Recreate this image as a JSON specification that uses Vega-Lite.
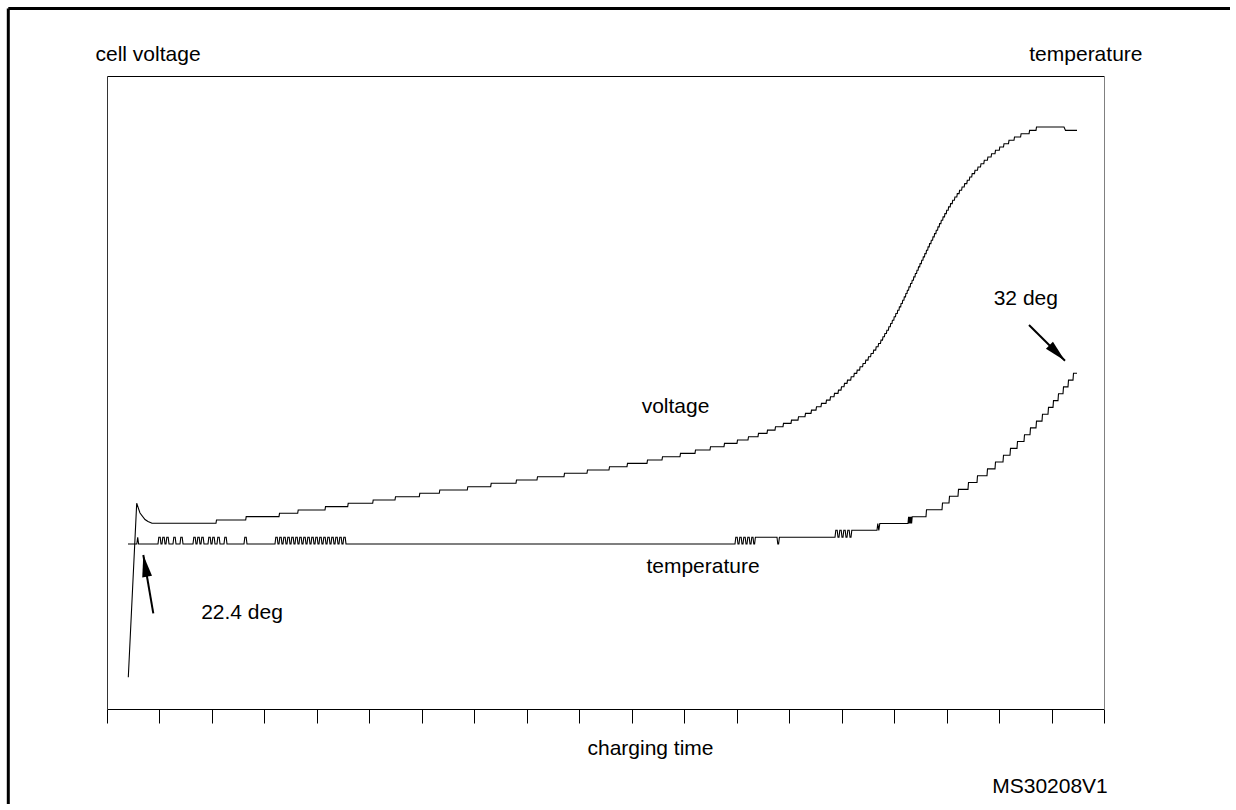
{
  "$schema": "https://vega.github.io/schema/vega-lite/v6.json",
  "width": 997,
  "height": 633,
  "autosize": {"type": "none"},
  "padding": {"left": 107, "top": 76, "right": 126, "bottom": 95},
  "background": "white",
  "config": {
    "view": {"stroke": null},
    "font": "Liberation Sans",
    "axis": {"grid": false, "labels": false, "ticks": false, "titleFont": "Liberation Sans", "titleFontSize": 21, "titleFontWeight": "normal", "titleColor": "black", "domainColor": "black", "domainWidth": 1}
  },
  "datasets": {
    "frame": [
      {"t": -98.7, "v": 700.5, "t2": 1123, "v2": 700.5},
      {"t": -98.7, "v": 700.5, "t2": -98.7, "v2": -95}
    ],
    "voltage": [
      {"t": 21.3, "v": 31.7}, {"t": 29.7, "v": 205.7}, {"t": 33, "v": 196}, {"t": 38, "v": 189.5}, {"t": 41, "v": 187.5}, {"t": 45, "v": 185.7},
      {"t": 109, "v": 185.7}, {"t": 109.5, "v": 189.0},
      {"t": 138.7, "v": 189.0}, {"t": 139.2, "v": 192.4},
      {"t": 172, "v": 192.4}, {"t": 172.5, "v": 195.7},
      {"t": 190.7, "v": 195.7}, {"t": 191.2, "v": 199.0},
      {"t": 218, "v": 199.0}, {"t": 218.5, "v": 202.4},
      {"t": 240.7, "v": 202.4}, {"t": 241.2, "v": 205.7},
      {"t": 265.7, "v": 205.7}, {"t": 266.2, "v": 209.0},
      {"t": 288, "v": 209.0}, {"t": 288.5, "v": 212.3},
      {"t": 312.3, "v": 212.3}, {"t": 312.8, "v": 215.7},
      {"t": 332.3, "v": 215.7}, {"t": 332.8, "v": 219.0},
      {"t": 360.3, "v": 219.0}, {"t": 360.8, "v": 222.3},
      {"t": 383.7, "v": 222.3}, {"t": 384.2, "v": 225.7},
      {"t": 409, "v": 225.7}, {"t": 409.5, "v": 229.0},
      {"t": 430, "v": 229.0}, {"t": 430.5, "v": 232.3},
      {"t": 457, "v": 232.3}, {"t": 457.5, "v": 235.7},
      {"t": 480, "v": 235.7}, {"t": 480.5, "v": 239.0},
      {"t": 502, "v": 239.0}, {"t": 502.5, "v": 242.3},
      {"t": 520, "v": 242.3}, {"t": 520.5, "v": 245.6},
      {"t": 540, "v": 245.6}, {"t": 540.5, "v": 249.0},
      {"t": 555, "v": 249.0}, {"t": 555.5, "v": 252.3},
      {"t": 573, "v": 252.3}, {"t": 573.5, "v": 255.6},
      {"t": 588, "v": 255.6}, {"t": 588.5, "v": 259.0},
      {"t": 603, "v": 259.0}, {"t": 603.5, "v": 262.3},
      {"t": 617, "v": 262.3}, {"t": 617.5, "v": 265.6},
      {"t": 630, "v": 265.6}, {"t": 630.5, "v": 269.0},
      {"t": 641, "v": 269.0}, {"t": 641.5, "v": 272.3},
      {"t": 651, "v": 272.3}, {"t": 651.5, "v": 275.6},
      {"t": 660, "v": 275.6}, {"t": 660.5, "v": 278.9},
      {"t": 668, "v": 278.9}, {"t": 668.5, "v": 282.3},
      {"t": 676, "v": 282.3}, {"t": 676.5, "v": 285.6},
      {"t": 684, "v": 285.6}, {"t": 684.5, "v": 288.9},
      {"t": 691, "v": 288.9}, {"t": 691.5, "v": 292.3},
      {"t": 698, "v": 292.3}, {"t": 698.5, "v": 295.6},
      {"t": 704, "v": 295.6}, {"t": 704.5, "v": 298.9},
      {"t": 709, "v": 298.9}, {"t": 709.5, "v": 302.3},
      {"t": 714, "v": 302.3}, {"t": 714.5, "v": 305.6},
      {"t": 719, "v": 305.6}, {"t": 719.5, "v": 308.9},
      {"t": 723, "v": 308.9}, {"t": 723.5, "v": 312.2},
      {"t": 727, "v": 312.2}, {"t": 727.5, "v": 315.6},
      {"t": 731, "v": 315.6}, {"t": 731.5, "v": 318.9},
      {"t": 734, "v": 318.9}, {"t": 734.5, "v": 322.2},
      {"t": 737, "v": 322.2}, {"t": 737.5, "v": 325.6},
      {"t": 740, "v": 325.6}, {"t": 740.5, "v": 328.9},
      {"t": 743.7, "v": 328.9}, {"t": 744.2, "v": 332.2},
      {"t": 746.8, "v": 332.2}, {"t": 747.3, "v": 335.6},
      {"t": 749.7, "v": 335.6}, {"t": 750.2, "v": 338.9},
      {"t": 752.6, "v": 338.9}, {"t": 753.1, "v": 342.2},
      {"t": 755.6, "v": 342.2}, {"t": 756.1, "v": 345.5},
      {"t": 758.3, "v": 345.5}, {"t": 758.8, "v": 348.9},
      {"t": 761, "v": 348.9}, {"t": 761.5, "v": 352.2},
      {"t": 763.6, "v": 352.2}, {"t": 764.1, "v": 355.5},
      {"t": 766.2, "v": 355.5}, {"t": 766.7, "v": 358.9},
      {"t": 768.7, "v": 358.9}, {"t": 769.2, "v": 362.2},
      {"t": 771.1, "v": 362.2}, {"t": 771.6, "v": 365.5},
      {"t": 773.5, "v": 365.5}, {"t": 774, "v": 368.9},
      {"t": 775.5, "v": 368.9}, {"t": 776, "v": 372.2},
      {"t": 777.4, "v": 372.2}, {"t": 777.9, "v": 375.5},
      {"t": 779.4, "v": 375.5}, {"t": 779.9, "v": 378.8},
      {"t": 781.4, "v": 378.8}, {"t": 781.9, "v": 382.2},
      {"t": 783.3, "v": 382.2}, {"t": 783.7, "v": 385.5},
      {"t": 785, "v": 385.5}, {"t": 785.4, "v": 388.8},
      {"t": 786.8, "v": 388.8}, {"t": 787.2, "v": 392.2},
      {"t": 788.5, "v": 392.2}, {"t": 788.9, "v": 395.5},
      {"t": 790.3, "v": 395.5}, {"t": 790.7, "v": 398.8},
      {"t": 792, "v": 398.8}, {"t": 792.4, "v": 402.1},
      {"t": 793.7, "v": 402.1}, {"t": 794.1, "v": 405.5},
      {"t": 795.3, "v": 405.5}, {"t": 795.7, "v": 408.8},
      {"t": 796.9, "v": 408.8}, {"t": 797.3, "v": 412.1},
      {"t": 798.5, "v": 412.1}, {"t": 798.9, "v": 415.5},
      {"t": 800, "v": 415.5}, {"t": 800.4, "v": 418.8},
      {"t": 801.6, "v": 418.8}, {"t": 802, "v": 422.1},
      {"t": 803.2, "v": 422.1}, {"t": 803.6, "v": 425.5},
      {"t": 804.8, "v": 425.5}, {"t": 805.2, "v": 428.8},
      {"t": 806.4, "v": 428.8}, {"t": 806.8, "v": 432.1},
      {"t": 808, "v": 432.1}, {"t": 808.4, "v": 435.5},
      {"t": 809.6, "v": 435.5}, {"t": 810, "v": 438.8},
      {"t": 811.1, "v": 438.8}, {"t": 811.5, "v": 442.1},
      {"t": 812.7, "v": 442.1}, {"t": 813.1, "v": 445.4},
      {"t": 814.3, "v": 445.4}, {"t": 814.7, "v": 448.8},
      {"t": 815.9, "v": 448.8}, {"t": 816.3, "v": 452.1},
      {"t": 817.5, "v": 452.1}, {"t": 817.9, "v": 455.4},
      {"t": 819.1, "v": 455.4}, {"t": 819.5, "v": 458.8},
      {"t": 820.7, "v": 458.8}, {"t": 821.1, "v": 462.1},
      {"t": 822.2, "v": 462.1}, {"t": 822.6, "v": 465.4},
      {"t": 823.9, "v": 465.4}, {"t": 824.3, "v": 468.8},
      {"t": 825.6, "v": 468.8}, {"t": 826, "v": 472.1},
      {"t": 827.2, "v": 472.1}, {"t": 827.6, "v": 475.4},
      {"t": 828.9, "v": 475.4}, {"t": 829.3, "v": 478.7},
      {"t": 830.6, "v": 478.7}, {"t": 831, "v": 482.1},
      {"t": 832.2, "v": 482.1}, {"t": 832.6, "v": 485.4},
      {"t": 833.9, "v": 485.4}, {"t": 834.3, "v": 488.7},
      {"t": 835.7, "v": 488.7}, {"t": 836.1, "v": 492.1},
      {"t": 837.5, "v": 492.1}, {"t": 837.9, "v": 495.4},
      {"t": 839.3, "v": 495.4}, {"t": 839.7, "v": 498.7},
      {"t": 841.2, "v": 498.7}, {"t": 841.6, "v": 502.1},
      {"t": 843.2, "v": 502.1}, {"t": 843.6, "v": 505.4},
      {"t": 845.2, "v": 505.4}, {"t": 845.7, "v": 508.7},
      {"t": 847.4, "v": 508.7}, {"t": 847.9, "v": 512.0},
      {"t": 849.8, "v": 512.0}, {"t": 850.3, "v": 515.4},
      {"t": 852.1, "v": 515.4}, {"t": 852.6, "v": 518.7},
      {"t": 854.6, "v": 518.7}, {"t": 855.1, "v": 522.0},
      {"t": 857.2, "v": 522.0}, {"t": 857.7, "v": 525.4},
      {"t": 859.8, "v": 525.4}, {"t": 860.3, "v": 528.7},
      {"t": 862.3, "v": 528.7}, {"t": 862.8, "v": 532.0},
      {"t": 864.7, "v": 532.0}, {"t": 865.2, "v": 535.4},
      {"t": 867.5, "v": 535.4}, {"t": 868, "v": 538.7},
      {"t": 870.5, "v": 538.7}, {"t": 871, "v": 542.0},
      {"t": 873.5, "v": 542.0}, {"t": 874, "v": 545.3},
      {"t": 876.8, "v": 545.3}, {"t": 877.3, "v": 548.7},
      {"t": 880.4, "v": 548.7}, {"t": 880.9, "v": 552.0},
      {"t": 884.1, "v": 552.0}, {"t": 884.6, "v": 555.3},
      {"t": 888, "v": 555.3}, {"t": 888.5, "v": 558.7},
      {"t": 892.3, "v": 558.7}, {"t": 892.8, "v": 562.0},
      {"t": 896.5, "v": 562.0}, {"t": 897, "v": 565.3},
      {"t": 901.5, "v": 565.3}, {"t": 902, "v": 568.7},
      {"t": 907, "v": 568.7}, {"t": 907.5, "v": 572.0},
      {"t": 913.6, "v": 572.0}, {"t": 914.1, "v": 575.3},
      {"t": 922.1, "v": 575.3}, {"t": 922.6, "v": 578.6},
      {"t": 929, "v": 578.6}, {"t": 929.5, "v": 582.0},
      {"t": 957, "v": 582.0}, {"t": 958.5, "v": 578.6}, {"t": 970, "v": 578.6}
    ],
    "temperature": [
      {"t": 21, "v": 165},
      {"t": 29.8, "v": 165}, {"t": 30.7, "v": 171.8}, {"t": 31.6, "v": 165},
      {"t": 51, "v": 165}, {"t": 51.8, "v": 171.8}, {"t": 53.2, "v": 171.8}, {"t": 54, "v": 165},
      {"t": 55, "v": 165}, {"t": 55.8, "v": 171.8}, {"t": 57.2, "v": 171.8}, {"t": 58, "v": 165},
      {"t": 59, "v": 165}, {"t": 59.8, "v": 171.8}, {"t": 61.2, "v": 171.8}, {"t": 62, "v": 165},
      {"t": 66, "v": 165}, {"t": 66.8, "v": 171.8}, {"t": 68.2, "v": 171.8}, {"t": 69, "v": 165},
      {"t": 73, "v": 165}, {"t": 73.8, "v": 171.8}, {"t": 75.2, "v": 171.8}, {"t": 76, "v": 165},
      {"t": 86, "v": 165}, {"t": 86.8, "v": 171.8}, {"t": 88.2, "v": 171.8}, {"t": 89, "v": 165},
      {"t": 90, "v": 165}, {"t": 90.8, "v": 171.8}, {"t": 92.2, "v": 171.8}, {"t": 93, "v": 165},
      {"t": 94, "v": 165}, {"t": 94.8, "v": 171.8}, {"t": 96.2, "v": 171.8}, {"t": 97, "v": 165},
      {"t": 101, "v": 165}, {"t": 101.8, "v": 171.8}, {"t": 103.2, "v": 171.8}, {"t": 104, "v": 165},
      {"t": 105, "v": 165}, {"t": 105.8, "v": 171.8}, {"t": 107.2, "v": 171.8}, {"t": 108, "v": 165},
      {"t": 110, "v": 165}, {"t": 110.8, "v": 171.8}, {"t": 112.2, "v": 171.8}, {"t": 113, "v": 165},
      {"t": 117, "v": 165}, {"t": 117.8, "v": 171.8}, {"t": 119.2, "v": 171.8}, {"t": 120, "v": 165},
      {"t": 137, "v": 165}, {"t": 137.8, "v": 171.8}, {"t": 139.2, "v": 171.8}, {"t": 140, "v": 165},
      {"t": 168, "v": 165}, {"t": 168.8, "v": 171.8}, {"t": 170.2, "v": 171.8}, {"t": 171, "v": 165},
      {"t": 172, "v": 165}, {"t": 172.8, "v": 171.8}, {"t": 174.2, "v": 171.8}, {"t": 175, "v": 165},
      {"t": 176, "v": 165}, {"t": 176.8, "v": 171.8}, {"t": 178.2, "v": 171.8}, {"t": 179, "v": 165},
      {"t": 180, "v": 165}, {"t": 180.8, "v": 171.8}, {"t": 182.2, "v": 171.8}, {"t": 183, "v": 165},
      {"t": 184, "v": 165}, {"t": 184.8, "v": 171.8}, {"t": 186.2, "v": 171.8}, {"t": 187, "v": 165},
      {"t": 188, "v": 165}, {"t": 188.8, "v": 171.8}, {"t": 190.2, "v": 171.8}, {"t": 191, "v": 165},
      {"t": 192, "v": 165}, {"t": 192.8, "v": 171.8}, {"t": 194.2, "v": 171.8}, {"t": 195, "v": 165},
      {"t": 196, "v": 165}, {"t": 196.8, "v": 171.8}, {"t": 198.2, "v": 171.8}, {"t": 199, "v": 165},
      {"t": 200, "v": 165}, {"t": 200.8, "v": 171.8}, {"t": 202.2, "v": 171.8}, {"t": 203, "v": 165},
      {"t": 204, "v": 165}, {"t": 204.8, "v": 171.8}, {"t": 206.2, "v": 171.8}, {"t": 207, "v": 165},
      {"t": 208, "v": 165}, {"t": 208.8, "v": 171.8}, {"t": 210.2, "v": 171.8}, {"t": 211, "v": 165},
      {"t": 212, "v": 165}, {"t": 212.8, "v": 171.8}, {"t": 214.2, "v": 171.8}, {"t": 215, "v": 165},
      {"t": 216, "v": 165}, {"t": 216.8, "v": 171.8}, {"t": 218.2, "v": 171.8}, {"t": 219, "v": 165},
      {"t": 220, "v": 165}, {"t": 220.8, "v": 171.8}, {"t": 222.2, "v": 171.8}, {"t": 223, "v": 165},
      {"t": 224, "v": 165}, {"t": 224.8, "v": 171.8}, {"t": 226.2, "v": 171.8}, {"t": 227, "v": 165},
      {"t": 228, "v": 165}, {"t": 228.8, "v": 171.8}, {"t": 230.2, "v": 171.8}, {"t": 231, "v": 165},
      {"t": 232, "v": 165}, {"t": 232.8, "v": 171.8}, {"t": 234.2, "v": 171.8}, {"t": 235, "v": 165},
      {"t": 236, "v": 165}, {"t": 236.8, "v": 171.8}, {"t": 238.2, "v": 171.8}, {"t": 239, "v": 165},
      {"t": 628, "v": 165}, {"t": 628.8, "v": 171.8}, {"t": 630.2, "v": 171.8}, {"t": 631, "v": 165},
      {"t": 632, "v": 165}, {"t": 632.8, "v": 171.8}, {"t": 634.2, "v": 171.8}, {"t": 635, "v": 165},
      {"t": 636, "v": 165}, {"t": 636.8, "v": 171.8}, {"t": 638.2, "v": 171.8}, {"t": 639, "v": 165},
      {"t": 640, "v": 165}, {"t": 640.8, "v": 171.8}, {"t": 642.2, "v": 171.8}, {"t": 643, "v": 165},
      {"t": 644, "v": 165}, {"t": 644.8, "v": 171.8}, {"t": 646, "v": 171.8}, {"t": 646.8, "v": 165}, {"t": 647.6, "v": 165}, {"t": 648.4, "v": 171.8},
      {"t": 670, "v": 171.8}, {"t": 670.8, "v": 165}, {"t": 671.6, "v": 165}, {"t": 672.4, "v": 171.8},
      {"t": 728, "v": 171.8}, {"t": 728.8, "v": 178.7}, {"t": 730.2, "v": 178.7}, {"t": 731, "v": 171.8},
      {"t": 732, "v": 171.8}, {"t": 732.8, "v": 178.7}, {"t": 734.2, "v": 178.7}, {"t": 735, "v": 171.8},
      {"t": 736, "v": 171.8}, {"t": 736.8, "v": 178.7}, {"t": 738.2, "v": 178.7}, {"t": 739, "v": 171.8},
      {"t": 740, "v": 171.8}, {"t": 740.8, "v": 178.7}, {"t": 742.2, "v": 178.7}, {"t": 743, "v": 171.8},
      {"t": 744, "v": 171.8}, {"t": 744.8, "v": 178.7},
      {"t": 770, "v": 178.7}, {"t": 770.8, "v": 185.5}, {"t": 771.8, "v": 178.7}, {"t": 772.8, "v": 185.5},
      {"t": 801, "v": 185.5}, {"t": 801.6, "v": 192.3}, {"t": 802.2, "v": 185.5}, {"t": 802.8, "v": 192.3}, {"t": 803.4, "v": 185.5}, {"t": 804, "v": 192.3}, {"t": 804.6, "v": 185.5}, {"t": 805.2, "v": 192.3},
      {"t": 819, "v": 192.3}, {"t": 819.5, "v": 199.2},
      {"t": 835, "v": 199.2}, {"t": 835.5, "v": 206.0},
      {"t": 842, "v": 206.0}, {"t": 842.5, "v": 212.8},
      {"t": 851, "v": 212.8}, {"t": 851.5, "v": 219.6},
      {"t": 861, "v": 219.6}, {"t": 861.5, "v": 226.5},
      {"t": 870, "v": 226.5}, {"t": 870.5, "v": 233.3},
      {"t": 880, "v": 233.3}, {"t": 880.5, "v": 240.1},
      {"t": 888, "v": 240.1}, {"t": 888.5, "v": 247.0},
      {"t": 896, "v": 247.0}, {"t": 896.5, "v": 253.8},
      {"t": 903, "v": 253.8}, {"t": 903.5, "v": 260.6},
      {"t": 910, "v": 260.6}, {"t": 910.5, "v": 267.5},
      {"t": 917, "v": 267.5}, {"t": 917.5, "v": 274.3},
      {"t": 923, "v": 274.3}, {"t": 923.5, "v": 281.1},
      {"t": 929, "v": 281.1}, {"t": 929.5, "v": 287.9},
      {"t": 935, "v": 287.9}, {"t": 935.5, "v": 294.8},
      {"t": 941, "v": 294.8}, {"t": 941.5, "v": 301.6},
      {"t": 946, "v": 301.6}, {"t": 946.5, "v": 308.4},
      {"t": 951, "v": 308.4}, {"t": 951.5, "v": 315.3},
      {"t": 956, "v": 315.3}, {"t": 956.5, "v": 322.1},
      {"t": 961, "v": 322.1}, {"t": 961.5, "v": 328.9},
      {"t": 966, "v": 328.9}, {"t": 966.5, "v": 335.8},
      {"t": 970, "v": 335.8}
    ],
    "arrowUp": [{"t": 36.3, "v": 154, "t2": 46.3, "v2": 95.7}],
    "arrowDown": [{"t": 958, "v": 348.3, "t2": 922, "v2": 384}],
    "labels": [
      {"t": 568.5, "v": 296, "label": "voltage"},
      {"t": 596, "v": 136, "label": "temperature"},
      {"t": 135, "v": 89.7, "label": "22.4 deg"},
      {"t": 918.8, "v": 404.5, "label": "32 deg"},
      {"t": 943, "v": -84.3, "label": "MS30208V1"}
    ]
  },
  "resolve": {"axis": {"x": "independent", "y": "independent"}},
  "layer": [
    {
      "data": {"name": "frame"},
      "mark": {"type": "rule", "color": "black", "strokeWidth": 3},
      "encoding": {
        "x": {"field": "t", "type": "quantitative", "scale": {"domain": [0, 997], "nice": false, "zero": false}, "axis": null},
        "x2": {"field": "t2"},
        "y": {"field": "v", "type": "quantitative", "scale": {"domain": [0, 633], "nice": false, "zero": false}, "axis": null},
        "y2": {"field": "v2"}
      }
    },
    {
      "data": {"name": "voltage"},
      "mark": {"type": "line", "color": "black", "strokeWidth": 1.1, "interpolate": "linear"},
      "encoding": {
        "x": {"field": "t", "type": "quantitative", "scale": {"domain": [0, 997], "nice": false, "zero": false},
          "axis": {"orient": "bottom", "values": [0, 52.47, 104.95, 157.42, 209.89, 262.37, 314.84, 367.32, 419.79, 472.26, 524.74, 577.21, 629.68, 682.16, 734.63, 787.11, 839.58, 892.05, 944.53, 997],
            "ticks": true, "tickSize": 14, "tickColor": "black", "tickWidth": 1, "labels": false, "domain": true, "domainColor": "black",
            "title": "charging time", "titleX": 543, "titleY": 45, "titleAlign": "center", "titleBaseline": "alphabetic", "titleAngle": 0}},
        "y": {"field": "v", "type": "quantitative", "scale": {"domain": [0, 633], "nice": false, "zero": false},
          "axis": {"orient": "left", "ticks": false, "labels": false, "domain": true, "domainColor": "#333333",
            "title": "cell voltage", "titleAngle": 0, "titleAlign": "left", "titleBaseline": "alphabetic", "titleX": -12, "titleY": -16}}
      }
    },
    {
      "data": {"name": "temperature"},
      "mark": {"type": "line", "color": "black", "strokeWidth": 1.1, "interpolate": "linear"},
      "encoding": {
        "x": {"field": "t", "type": "quantitative", "scale": {"domain": [0, 997], "nice": false, "zero": false},
          "axis": {"orient": "top", "ticks": false, "labels": false, "domain": true, "domainColor": "black", "title": null}},
        "y": {"field": "v", "type": "quantitative", "scale": {"domain": [0, 633], "nice": false, "zero": false},
          "axis": {"orient": "right", "ticks": false, "labels": false, "domain": true, "domainColor": "#808080",
            "title": "temperature", "titleAngle": 0, "titleAlign": "right", "titleBaseline": "alphabetic", "titleX": 38, "titleY": -16}}
      }
    },
    {
      "data": {"name": "arrowUp"},
      "layer": [
        {"mark": {"type": "rule", "color": "black", "strokeWidth": 2}, "encoding": {"x2": {"field": "t2"}, "y2": {"field": "v2"}}},
        {"mark": {"type": "point", "shape": "M0,0L-0.45,2L0.45,2Z", "filled": true, "color": "black", "opacity": 1, "size": 484, "angle": 350}}
      ],
      "encoding": {
        "x": {"field": "t", "type": "quantitative", "scale": {"domain": [0, 997], "nice": false, "zero": false}, "axis": null},
        "y": {"field": "v", "type": "quantitative", "scale": {"domain": [0, 633], "nice": false, "zero": false}, "axis": null}
      }
    },
    {
      "data": {"name": "arrowDown"},
      "layer": [
        {"mark": {"type": "rule", "color": "black", "strokeWidth": 2}, "encoding": {"x2": {"field": "t2"}, "y2": {"field": "v2"}}},
        {"mark": {"type": "point", "shape": "M0,0L-0.45,2L0.45,2Z", "filled": true, "color": "black", "opacity": 1, "size": 484, "angle": 135}}
      ],
      "encoding": {
        "x": {"field": "t", "type": "quantitative", "scale": {"domain": [0, 997], "nice": false, "zero": false}, "axis": null},
        "y": {"field": "v", "type": "quantitative", "scale": {"domain": [0, 633], "nice": false, "zero": false}, "axis": null}
      }
    },
    {
      "data": {"name": "labels"},
      "mark": {"type": "text", "font": "Liberation Sans", "fontSize": 21, "color": "black", "align": "center", "baseline": "alphabetic"},
      "encoding": {
        "x": {"field": "t", "type": "quantitative", "scale": {"domain": [0, 997], "nice": false, "zero": false}, "axis": null},
        "y": {"field": "v", "type": "quantitative", "scale": {"domain": [0, 633], "nice": false, "zero": false}, "axis": null},
        "text": {"field": "label"}
      }
    }
  ]
}
